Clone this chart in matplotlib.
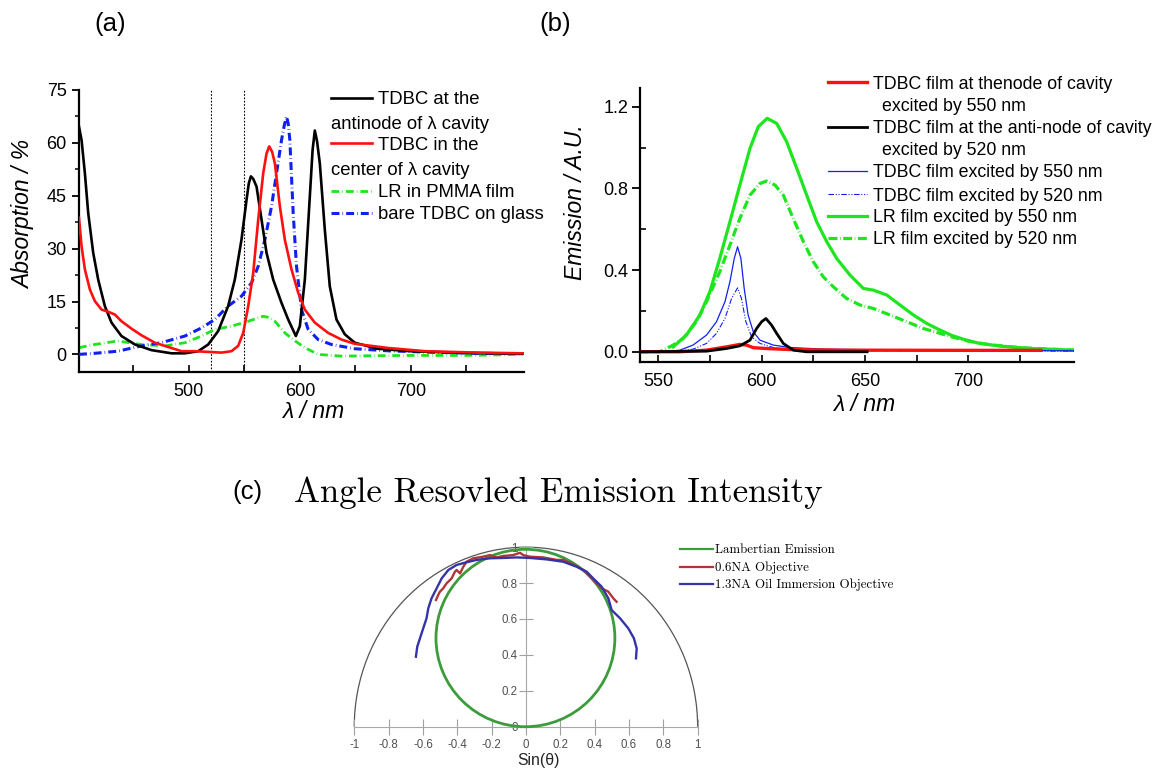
import matplotlib
matplotlib.use('Agg')
import matplotlib.pyplot as plt
from matplotlib.lines import Line2D
from matplotlib.patches import Arc, Ellipse

# ---------------- data: panel (a) absorption ----------------
a_wl_black = [401, 403.3, 406.3, 409.3, 413.8, 418.3, 424.3, 430.3, 439.3, 451.4, 466.4, 484.4,
              496.4, 508.4, 517.4, 526.4, 535.4, 541.4, 547.4, 552, 554, 555.9, 558, 561, 565.5,
              570, 576, 583.5, 589.5, 596.4, 600, 604.5, 609, 611.5, 613.5, 615.5, 618, 622.5,
              627, 633, 640.5, 649.5, 670, 700, 750, 801]
a_black = [64.6, 60.8, 51.4, 40.1, 28.8, 21.2, 13.7, 9.0, 5.2, 2.8, 1.2, 0.3,
           0.3, 0.9, 2.8, 6.6, 13.7, 21.2, 32.5, 43.9, 48.5, 50.5, 49.8, 47.6, 38.2,
           28.8, 21.2, 14.6, 9.9, 5.2, 8.0, 21.2, 44.8, 58, 63.5, 60.5, 54.2, 35.4,
           19.3, 9.9, 5.7, 3.3, 1.6, 0.9, 0.4, 0.2]

a_wl_red = [401, 403.3, 406.3, 410.8, 415.3, 421.3, 427.3, 433.3, 439.3, 448.3, 457.4, 469.4,
            481.4, 493.4, 505.4, 517.4, 529.4, 538.4, 544.4, 549, 553.5, 558, 562.5, 567, 570,
            572.4, 575, 577.5, 582, 586.5, 592.5, 598.5, 604.5, 613.5, 625.5, 637.5, 649.5, 680,
            713, 760, 801]
a_red = [38.7, 30.7, 24.1, 18.4, 15.1, 12.7, 12.1, 11.3, 9.4, 7.3, 5.4, 3.3,
         2.1, 0.9, 0.9, 0.7, 0.5, 0.9, 2.4, 6.1, 13.7, 23.1, 38.2, 51.4, 57,
         59, 57.5, 54.2, 42, 32.5, 24.1, 17.5, 12.7, 9, 6.1, 4.2, 3.0, 1.8,
         0.9, 0.5, 0.3]

a_wl_lr = [401, 415, 436, 457, 478.4, 496.4, 511.4, 523.4, 538.4, 553.5, 561, 567, 572, 577.5,
           586.5, 594, 604.5, 616.5, 637.5, 660, 700, 750, 801]
a_lr = [1.9, 2.8, 3.8, 2.8, 2.4, 3.3, 5.2, 7.1, 8.0, 9.4, 10.2, 10.8, 10.5, 9.4,
        6.1, 4.2, 1.9, 0, -0.5, -0.4, -0.3, -0.3, 0]

a_wl_bare = [401, 415, 436, 457, 475, 496.4, 511.4, 523.4, 535.4, 547.4, 556.5, 562.5, 568.5,
             574.5, 579, 583.5, 586, 588, 589.5, 591, 594, 597, 601.5, 607.5, 616.5, 628.5,
             649.5, 680, 720, 760, 801]
a_bare = [0, 0.3, 0.9, 2.4, 3.3, 5.2, 7.5, 9.9, 13.7, 16.5, 20.3, 25, 32.5,
          42, 51.4, 60.8, 65, 67.5, 65.5, 60.8, 40.1, 25, 12.7, 7.1, 4.2, 2.8,
          1.6, 1.0, 0.6, 0.3, 0.2]

a_labels = ['TDBC at the', 'TDBC in the', 'LR in PMMA film', 'bare TDBC on glass']
a_label_cont = ['antinode of \u03bb cavity', 'center of \u03bb cavity']
a_excitation = [520, 550]

# ---------------- data: panel (b) emission ----------------
b_wl_lr550 = [557.3, 563.7, 570.2, 575, 579.8, 584.7, 589.5, 594.4, 598.4, 602.7, 607.3, 612.1,
              617, 621.8, 626.6, 631.5, 636.3, 642.7, 649.2, 654, 660.5, 666.9, 673.4, 679.8,
              686.3, 692, 698, 705, 715, 730, 751]
b_lr550 = [0.024, 0.082, 0.18, 0.294, 0.457, 0.637, 0.816, 0.996, 1.102, 1.143, 1.118, 1.029,
           0.898, 0.767, 0.637, 0.539, 0.457, 0.376, 0.310, 0.302, 0.278, 0.229, 0.180, 0.139,
           0.106, 0.08, 0.06, 0.042, 0.028, 0.016, 0.008]

b_wl_lr520 = [541, 550.8, 557.3, 562.1, 568.5, 573.4, 579.8, 584.7, 589.5, 594.4, 599.2, 602.4,
              606.5, 610.5, 615.3, 620.2, 625, 629.8, 634.7, 641.1, 647.6, 654, 662.1, 670.2,
              678.2, 686.3, 693, 700, 710, 725, 751]
b_lr520 = [0, 0, 0.033, 0.065, 0.147, 0.245, 0.392, 0.522, 0.653, 0.767, 0.824, 0.836,
           0.816, 0.767, 0.653, 0.539, 0.441, 0.367, 0.318, 0.261, 0.229, 0.212, 0.18, 0.147,
           0.114, 0.09, 0.07, 0.052, 0.035, 0.02, 0.008]

b_wl_t550 = [541, 555, 560.5, 566.9, 573.4, 578.2, 582.3, 584.7, 586.8, 588.4, 590, 591.6, 593.5,
             596, 599.2, 605.6, 613.7, 629.8, 660, 700, 751]
b_t550 = [0, 0.002, 0.008, 0.033, 0.082, 0.147, 0.245, 0.343, 0.457, 0.514, 0.457, 0.31, 0.18,
          0.098, 0.057, 0.033, 0.021, 0.013, 0.009, 0.007, 0.005]

b_wl_t520 = [541, 560, 566.9, 573.4, 578.2, 582.3, 585.5, 588.4, 590.3, 592.4, 595.2, 599.2, 605.6,
             615, 630, 650, 751]
b_t520 = [0, 0.004, 0.013, 0.041, 0.09, 0.163, 0.261, 0.313, 0.261, 0.147, 0.073, 0.041, 0.021,
          0.012, 0.008, 0.005, 0.003]

b_wl_anti = [541, 573.4, 583, 589.5, 594.4, 597.6, 600, 602.1, 604.8, 607.3, 610.5, 615.3, 621.8,
             651]
b_anti = [0, 0.003, 0.016, 0.029, 0.057, 0.114, 0.147, 0.163, 0.131, 0.09, 0.041, 0.008, 0, 0]

b_wl_node = [541, 560.5, 573.4, 583, 589.5, 592.7, 596, 602.4, 613.7, 638, 700, 735]
b_node = [0, 0, 0.008, 0.024, 0.036, 0.033, 0.02, 0.016, 0.011, 0.008, 0.007, 0.007]

b_labels = ['TDBC film at thenode of cavity', 'TDBC film at the anti-node of cavity',
            'TDBC film excited by 550 nm', 'TDBC film excited by 520 nm',
            'LR film excited by 550 nm', 'LR film excited by 520 nm']
b_label_cont = ['excited by 550 nm', 'excited by 520 nm']

# ---------------- data: panel (c) angle-resolved ----------------
c_x_13na = [-0.641, -0.633, -0.608, -0.579, -0.569, -0.550, -0.520, -0.491, -0.452, -0.404,
            -0.346, -0.287, -0.210, -0.132, -0.054, 0.023, 0.120, 0.217, 0.295, 0.353, 0.392,
            0.441, 0.480, 0.499, 0.548, 0.596, 0.629, 0.645, 0.641]
c_y_13na = [0.390, 0.446, 0.520, 0.604, 0.659, 0.715, 0.771, 0.826, 0.873, 0.901,
            0.916, 0.929, 0.938, 0.940, 0.943, 0.940, 0.932, 0.919, 0.891, 0.864, 0.826,
            0.780, 0.715, 0.650, 0.604, 0.548, 0.492, 0.436, 0.381]
c_x_06na = [-0.524, -0.511, -0.501, -0.482, -0.462, -0.433, -0.414, -0.404, -0.384, -0.365,
            -0.346, -0.307, -0.249, -0.210, -0.171, -0.132, -0.074, -0.035, -0.016, 0.023,
            0.101, 0.179, 0.217, 0.276, 0.334, 0.373, 0.402, 0.441, 0.480, 0.509, 0.528]
c_y_06na = [0.706, 0.734, 0.752, 0.771, 0.799, 0.826, 0.863, 0.873, 0.854, 0.891,
            0.919, 0.938, 0.947, 0.956, 0.943, 0.951, 0.956, 0.969, 0.956, 0.947,
            0.943, 0.929, 0.929, 0.904, 0.873, 0.836, 0.808, 0.771, 0.752, 0.715, 0.696]
c_lambert_center = (-0.003, 0.494)
c_lambert_size = (1.042, 0.988)
c_xticks = [-1, -0.8, -0.6, -0.4, -0.2, 0, 0.2, 0.4, 0.6, 0.8, 1]
c_yticks = [0, 0.2, 0.4, 0.6, 0.8, 1]
c_labels = ['Lambertian Emission', '0.6NA Objective', '1.3NA Oil Immersion Objective']

# ---------------- figure ----------------
W, H = 1159, 775
plt.rcParams['font.family'] = ['Liberation Sans', 'DejaVu Sans']
fig = plt.figure(figsize=(W / 100, H / 100), dpi=100)


def fx(px):
    return px / W


def fy(py):
    return 1 - py / H


def leg_line(x0, x1, y, **kw):
    fig.add_artist(Line2D([fx(x0), fx(x1)], [fy(y), fy(y)], transform=fig.transFigure, **kw))


def leg_text(x, y, s, size, family=None, cap=0.716):
    kw = {}
    if family:
        kw['family'] = family
    fig.text(fx(x), fy(y + cap * size * 100 / 72 / 2), s, fontsize=size, va='baseline',
             ha='left', **kw)


def origin_axes(ax):
    for s in ['top', 'right']:
        ax.spines[s].set_visible(False)
    for s in ['left', 'bottom']:
        ax.spines[s].set_linewidth(1.6)


GREEN = '#1ee61e'
RED = '#ff1010'
BLUE = '#1020f0'

# ---- panel (a)
axa = fig.add_axes([fx(79), fy(372), (524 - 79) / W, (372 - 90) / H])
origin_axes(axa)
for xv in a_excitation:
    axa.axvline(xv, color='black', lw=0.8, ls=(0, (1.5, 1.5)), zorder=1)
dd_g = (0, (2.8, 1.1, 0.2, 1.1))
dd_b = (0, (2.6, 1.0, 0.2, 1.0))
axa.plot(a_wl_lr, a_lr, color=GREEN, lw=2.0, ls=dd_g, zorder=2)
axa.plot(a_wl_bare, a_bare, color=BLUE, lw=2.2, ls=dd_b, zorder=3)
axa.plot(a_wl_black, a_black, color='black', lw=1.9, zorder=4)
axa.plot(a_wl_red, a_red, color=RED, lw=1.9, zorder=5)
axa.set_xlim(401, 802)
axa.set_ylim(-5, 75)
axa.set_yticks([0, 15, 30, 45, 60, 75])
axa.set_yticks([7.5, 22.5, 37.5, 52.5, 67.5], minor=True)
axa.set_xticks([500, 600, 700])
axa.set_xticks([450, 550, 650, 750], minor=True)
axa.tick_params(axis='y', which='major', direction='out', length=5, width=1.3, labelsize=13, pad=4)
axa.tick_params(axis='y', which='minor', direction='out', length=3, width=1.1)
axa.tick_params(axis='x', which='major', direction='in', length=5, width=1.2, labelsize=13, pad=8)
axa.tick_params(axis='x', which='minor', direction='in', length=5, width=1.2)
axa.set_ylabel('Absorption / %', fontsize=16.5, style='italic')
axa.yaxis.set_label_coords((24 - 79) / 445, (372 - 214) / 282)
axa.yaxis.label.set_verticalalignment('center')
axa.set_xlabel('\u03bb / nm', fontsize=16.5, style='italic')
axa.xaxis.set_label_coords((313 - 79) / 445, (372 - 412) / 282)
axa.xaxis.label.set_verticalalignment('center')

fs_a = 13.3
leg_line(331, 372, 97.7, color='black', lw=1.9)
leg_text(377.6, 97.7, a_labels[0], fs_a)
leg_text(331, 122.3, a_label_cont[0], fs_a)
leg_line(331, 372, 143.3, color=RED, lw=1.9)
leg_text(377.6, 143.3, a_labels[1], fs_a)
leg_text(331, 168.3, a_label_cont[1], fs_a)
leg_line(331, 372, 190.7, color=GREEN, lw=2.0, ls=dd_g)
leg_text(377.6, 190.7, a_labels[2], fs_a)
leg_line(331, 372, 212.7, color=BLUE, lw=2.2, ls=dd_b)
leg_text(377.6, 212.7, a_labels[3], fs_a)

# ---- panel (b)
axb = fig.add_axes([fx(639.5), fy(362), (1074 - 639.5) / W, (362 - 88.3) / H])
origin_axes(axb)
ddd = (0, (5, 1.5, 1, 1.5, 1, 1.5))
dd_g2 = (0, (2.8, 0.8, 0.2, 0.8))
axb.plot(b_wl_lr550, b_lr550, color=GREEN, lw=2.3, zorder=2)
axb.plot(b_wl_lr520, b_lr520, color=GREEN, lw=2.3, ls=dd_g2, zorder=2)
axb.plot(b_wl_t550, b_t550, color=BLUE, lw=0.9, zorder=3)
axb.plot(b_wl_t520, b_t520, color=BLUE, lw=0.8, ls=ddd, zorder=3)
axb.plot(b_wl_node, b_node, color=RED, lw=2.4, zorder=4)
axb.plot(b_wl_anti, b_anti, color='black', lw=2.0, zorder=5)
axb.set_xlim(541, 751)
axb.set_ylim(-0.05, 1.29)
axb.set_yticks([0.0, 0.4, 0.8, 1.2])
axb.set_yticklabels(['0.0', '0.4', '0.8', '1.2'])
axb.set_yticks([0.2, 0.6, 1.0], minor=True)
axb.set_xticks([550, 600, 650, 700])
axb.set_xticks([575, 625, 675, 725], minor=True)
axb.tick_params(axis='y', which='major', direction='out', length=6, width=1.3, labelsize=13, pad=2)
axb.tick_params(axis='y', which='minor', direction='in', length=4, width=1.2)
axb.tick_params(axis='x', which='major', direction='in', length=5, width=1.2, labelsize=13, pad=8)
axb.tick_params(axis='x', which='minor', direction='in', length=5, width=1.2)
axb.set_ylabel('Emission / A.U.', fontsize=16.5, style='italic')
axb.yaxis.set_label_coords((576 - 639.5) / 434.5, (362 - 202.5) / 273.7)
axb.yaxis.label.set_verticalalignment('center')
axb.set_xlabel('\u03bb / nm', fontsize=16.5, style='italic')
axb.xaxis.set_label_coords((864 - 639.5) / 434.5, (362 - 405) / 273.7)
axb.xaxis.label.set_verticalalignment('center')

fs_b = 12.8
hx0, hx1, tx, cx = 828, 867, 873, 881.8
leg_line(hx0, hx1, 82.3, color=RED, lw=2.4)
leg_text(tx, 82.3, b_labels[0], fs_b)
leg_text(cx, 104.3, b_label_cont[0], fs_b)
leg_line(hx0, hx1, 127, color='black', lw=2.0)
leg_text(tx, 127, b_labels[1], fs_b)
leg_text(cx, 149, b_label_cont[1], fs_b)
leg_line(hx0, hx1, 171, color=BLUE, lw=0.9)
leg_text(tx, 171, b_labels[2], fs_b)
leg_line(hx0, hx1, 194.3, color=BLUE, lw=0.8, ls=ddd)
leg_text(tx, 194.3, b_labels[3], fs_b)
leg_line(hx0, hx1, 216, color=GREEN, lw=2.3)
leg_text(tx, 216, b_labels[4], fs_b)
leg_line(hx0, hx1, 238, color=GREEN, lw=2.3, ls=dd_g2)
leg_text(tx, 238, b_labels[5], fs_b)

# ---- panel (c)
CG, CR, CB = '#3c9c3c', '#b03636', '#3434a8'
axc = fig.add_axes([fx(337.1), fy(735.7), 377.7 / W, 197.5 / H])
axc.set_xlim(-1.1, 1.1)
axc.set_ylim(-0.05, 1.05)
axc.patch.set_visible(False)
for s in ['top', 'right']:
    axc.spines[s].set_visible(False)
axc.spines['left'].set_position(('data', 0))
axc.spines['bottom'].set_position(('data', 0))
axc.spines['left'].set_bounds(0, 1)
axc.spines['bottom'].set_bounds(-1, 1)
for s in ['left', 'bottom']:
    axc.spines[s].set_color('#a8a8a8')
    axc.spines[s].set_linewidth(0.8)
axc.set_xticks(c_xticks)
axc.set_xticklabels([f'{v:g}' for v in c_xticks])
axc.set_yticks(c_yticks)
axc.set_yticklabels([f'{v:g}' for v in c_yticks])
axc.tick_params(axis='x', direction='inout', length=12, width=0.8, color='#a0a0a0',
                labelcolor='#505050', labelsize=8.3, pad=3)
axc.tick_params(axis='y', direction='inout', length=10, width=0.8, color='#a0a0a0',
                labelcolor='#505050', labelsize=8.3, pad=1)
axc.add_patch(Arc((0, 0), 2, 2, theta1=0, theta2=180, color='#555555', lw=0.9))
axc.add_patch(Ellipse(c_lambert_center, c_lambert_size[0], c_lambert_size[1], fill=False,
                      ec=CG, lw=2.0, zorder=3))
axc.plot(c_x_06na, c_y_06na, color=CR, lw=1.7, zorder=4)
axc.plot(c_x_13na, c_y_13na, color=CB, lw=1.7, zorder=4)
fig.text(fx(538), fy(760), 'Sin(\u03b8)', fontsize=11.3, ha='center', va='center', color='#222222')

fs_c = 9.3
leg_line(680, 713, 549, color=CG, lw=1.6)
leg_text(715, 549, c_labels[0], fs_c, family='cmr10', cap=0.683)
leg_line(680, 713, 566.5, color=CR, lw=1.6)
leg_text(715, 566.5, c_labels[1], fs_c, family='cmr10', cap=0.683)
leg_line(680, 713, 583.5, color=CB, lw=1.6)
leg_text(715, 583.5, c_labels[2], fs_c, family='cmr10', cap=0.683)

fig.text(fx(558), fy(502), 'Angle Resovled Emission Intensity', fontsize=25, family='cmr10',
         ha='center', va='baseline')

# panel labels
fig.text(fx(110), fy(24), '(a)', fontsize=18.5, ha='center', va='center')
fig.text(fx(555), fy(24), '(b)', fontsize=18.5, ha='center', va='center')
fig.text(fx(247), fy(492), '(c)', fontsize=18.5, ha='center', va='center')

fig.savefig('out.png', dpi=100)
